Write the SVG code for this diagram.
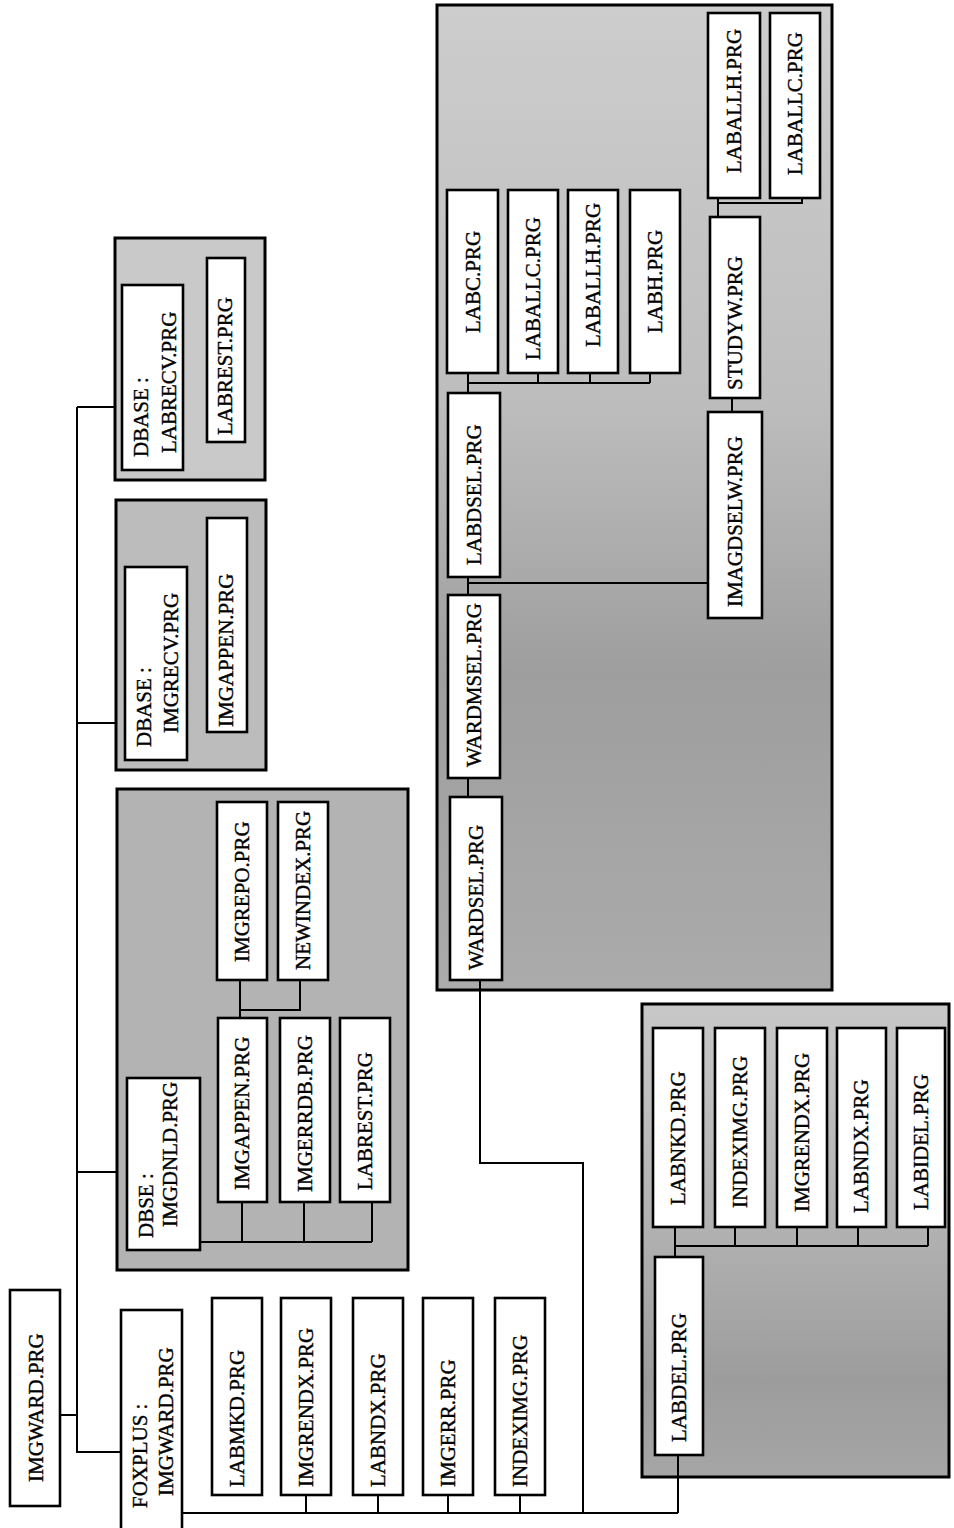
<svg xmlns="http://www.w3.org/2000/svg" width="954" height="1528" viewBox="0 0 954 1528">
<defs>
<style>
.grp{stroke:#000;stroke-width:3;}
.box{fill:#fff;stroke:#000;stroke-width:2.6;}
.t{font-family:"Liberation Serif","Times New Roman",serif;font-size:21px;fill:#000;stroke:#000;stroke-width:0.4;}
.c{fill:none;stroke:#000;stroke-width:2;}
</style>
<linearGradient id="gWard" x1="0" y1="0" x2="0" y2="1">
<stop offset="0" stop-color="#cdcdcd"/>
<stop offset="0.4" stop-color="#bdbdbd"/>
<stop offset="0.68" stop-color="#9e9e9e"/>
<stop offset="1" stop-color="#ababab"/>
</linearGradient>
<linearGradient id="gDel" x1="0" y1="0" x2="0" y2="1">
<stop offset="0" stop-color="#c8c8c8"/>
<stop offset="0.5" stop-color="#b0b0b0"/>
<stop offset="0.8" stop-color="#9c9c9c"/>
<stop offset="1" stop-color="#a6a6a6"/>
</linearGradient>
</defs>
<rect width="954" height="1528" fill="#fff"/>

<!-- group frames -->
<g id="frame-labrecv"><rect class="grp" x="115" y="238" width="150" height="242" fill="#c9c9c9"/></g>
<g id="frame-imgrecv"><rect class="grp" x="116" y="500" width="150" height="270" fill="#bcbcbc"/></g>
<g id="frame-imgdnld"><rect class="grp" x="117" y="789" width="291" height="481" fill="#b3b3b3"/></g>
<g id="frame-wardsel"><rect class="grp" x="437" y="5" width="395" height="985" fill="url(#gWard)"/></g>
<g id="frame-labdel"><rect class="grp" x="642" y="1004" width="307" height="473" fill="url(#gDel)"/></g>

<!-- connectors -->
<g id="connectors">
<path class="c" d="M60,1415 H77 M77,407 V1452 H121"/>
<path class="c" d="M77,407 H115 M77,723 H116 M77,1172 H117"/>
<path class="c" d="M182,1513 H678 M306,1495 V1513 M378,1495 V1513 M448,1495 V1513 M520,1495 V1513"/>
<path class="c" d="M480,980 V1163 H583 V1513"/>
<path class="c" d="M678,1455 V1513"/>
<path class="c" d="M200,1242 H372 M242,1202 V1242 M304,1202 V1242 M372,1202 V1242"/>
<path class="c" d="M240,980 V1018 M240,1010 H300 V980"/>
<path class="c" d="M468,373 V393 M468,383 H650 M538,373 V383 M590,373 V383 M650,373 V383"/>
<path class="c" d="M468,577 V595 M468,778 V797 M468,583 H708"/>
<path class="c" d="M732,398 V412"/>
<path class="c" d="M718,198 V217 M718,203 H802 V198"/>
<path class="c" d="M675,1227 V1257 M675,1246 H928 M735,1227 V1246 M797,1227 V1246 M858,1227 V1246 M928,1227 V1246"/>
</g>

<!-- left column -->
<g id="n-imgward"><rect class="box" x="10" y="1290" width="50" height="216"/><text class="t" transform="translate(43,1482) rotate(-90)">IMGWARD.PRG</text></g>
<g id="n-foxplus"><rect class="box" x="121" y="1310" width="61" height="228"/><text class="t" transform="translate(147,1508) rotate(-90)">FOXPLUS :</text><text class="t" transform="translate(173,1496) rotate(-90)">IMGWARD.PRG</text></g>
<g id="n-labmkd"><rect class="box" x="212" y="1298" width="50" height="197"/><text class="t" transform="translate(244,1487) rotate(-90)">LABMKD.PRG</text></g>
<g id="n-imgrendx1"><rect class="box" x="281" y="1298" width="50" height="197"/><text class="t" transform="translate(313,1487) rotate(-90)">IMGRENDX.PRG</text></g>
<g id="n-labndx1"><rect class="box" x="353" y="1298" width="50" height="197"/><text class="t" transform="translate(385,1487) rotate(-90)">LABNDX.PRG</text></g>
<g id="n-imgerr"><rect class="box" x="423" y="1298" width="50" height="197"/><text class="t" transform="translate(455,1487) rotate(-90)">IMGERR.PRG</text></g>
<g id="n-indeximg1"><rect class="box" x="495" y="1298" width="50" height="197"/><text class="t" transform="translate(527,1487) rotate(-90)">INDEXIMG.PRG</text></g>

<!-- group 1 -->
<g id="n-labrecv"><rect class="box" x="122" y="285" width="61" height="185"/><text class="t" transform="translate(148,457) rotate(-90)">DBASE :</text><text class="t" transform="translate(176,453) rotate(-90)">LABRECV.PRG</text></g>
<g id="n-labrest1"><rect class="box" x="207" y="258" width="38" height="184"/><text class="t" transform="translate(232,435) rotate(-90)">LABREST.PRG</text></g>

<!-- group 2 -->
<g id="n-imgrecv"><rect class="box" x="125" y="567" width="62" height="193"/><text class="t" transform="translate(151,747) rotate(-90)">DBASE :</text><text class="t" transform="translate(178,733) rotate(-90)">IMGRECV.PRG</text></g>
<g id="n-imgappen1"><rect class="box" x="207" y="518" width="40" height="214"/><text class="t" transform="translate(233,727) rotate(-90)">IMGAPPEN.PRG</text></g>

<!-- group 3 -->
<g id="n-imgdnld"><rect class="box" x="127" y="1078" width="73" height="172"/><text class="t" transform="translate(153,1238) rotate(-90)">DBSE :</text><text class="t" transform="translate(177,1227) rotate(-90)">IMGDNLD.PRG</text></g>
<g id="n-imgappen2"><rect class="box" x="218" y="1018" width="49" height="184"/><text class="t" transform="translate(249,1190) rotate(-90)">IMGAPPEN.PRG</text></g>
<g id="n-imgerrdb"><rect class="box" x="280" y="1018" width="50" height="184"/><text class="t" transform="translate(312,1192) rotate(-90)">IMGERRDB.PRG</text></g>
<g id="n-labrest2"><rect class="box" x="340" y="1018" width="50" height="184"/><text class="t" transform="translate(372,1190) rotate(-90)">LABREST.PRG</text></g>
<g id="n-imgrepo"><rect class="box" x="217" y="802" width="50" height="178"/><text class="t" transform="translate(249,962) rotate(-90)">IMGREPO.PRG</text></g>
<g id="n-newindex"><rect class="box" x="278" y="802" width="50" height="178"/><text class="t" transform="translate(310,970) rotate(-90)">NEWINDEX.PRG</text></g>

<!-- WARDSEL group -->
<g id="n-wardsel"><rect class="box" x="450" y="797" width="52" height="183"/><text class="t" transform="translate(483,970) rotate(-90)">WARDSEL.PRG</text></g>
<g id="n-wardmsel"><rect class="box" x="448" y="595" width="52" height="183"/><text class="t" transform="translate(481,767) rotate(-90)">WARDMSEL.PRG</text></g>
<g id="n-labdsel"><rect class="box" x="448" y="393" width="52" height="184"/><text class="t" transform="translate(481,565) rotate(-90)">LABDSEL.PRG</text></g>
<g id="n-labc"><rect class="box" x="447" y="190" width="51" height="183"/><text class="t" transform="translate(480,333) rotate(-90)">LABC.PRG</text></g>
<g id="n-laballc1"><rect class="box" x="508" y="190" width="50" height="183"/><text class="t" transform="translate(540,360) rotate(-90)">LABALLC.PRG</text></g>
<g id="n-laballh1"><rect class="box" x="568" y="190" width="50" height="183"/><text class="t" transform="translate(600,347) rotate(-90)">LABALLH.PRG</text></g>
<g id="n-labh"><rect class="box" x="630" y="190" width="50" height="183"/><text class="t" transform="translate(662,333) rotate(-90)">LABH.PRG</text></g>
<g id="n-imagdselw"><rect class="box" x="708" y="412" width="54" height="206"/><text class="t" transform="translate(742,607) rotate(-90)">IMAGDSELW.PRG</text></g>
<g id="n-studyw"><rect class="box" x="710" y="217" width="50" height="181"/><text class="t" transform="translate(742,390) rotate(-90)">STUDYW.PRG</text></g>
<g id="n-laballh2"><rect class="box" x="708" y="13" width="52" height="185"/><text class="t" transform="translate(741,173) rotate(-90)">LABALLH.PRG</text></g>
<g id="n-laballc2"><rect class="box" x="770" y="13" width="50" height="185"/><text class="t" transform="translate(802,175) rotate(-90)">LABALLC.PRG</text></g>

<!-- LABDEL group -->
<g id="n-labdel"><rect class="box" x="655" y="1257" width="48" height="198"/><text class="t" transform="translate(686,1442) rotate(-90)">LABDEL.PRG</text></g>
<g id="n-labnkd"><rect class="box" x="653" y="1028" width="50" height="199"/><text class="t" transform="translate(685,1205) rotate(-90)">LABNKD.PRG</text></g>
<g id="n-indeximg2"><rect class="box" x="715" y="1028" width="50" height="199"/><text class="t" transform="translate(747,1208) rotate(-90)">INDEXIMG.PRG</text></g>
<g id="n-imgrendx2"><rect class="box" x="777" y="1028" width="50" height="199"/><text class="t" transform="translate(809,1212) rotate(-90)">IMGRENDX.PRG</text></g>
<g id="n-labndx2"><rect class="box" x="837" y="1028" width="49" height="199"/><text class="t" transform="translate(868,1213) rotate(-90)">LABNDX.PRG</text></g>
<g id="n-labidel"><rect class="box" x="897" y="1028" width="48" height="199"/><text class="t" transform="translate(928,1210) rotate(-90)">LABIDEL.PRG</text></g>
</svg>
